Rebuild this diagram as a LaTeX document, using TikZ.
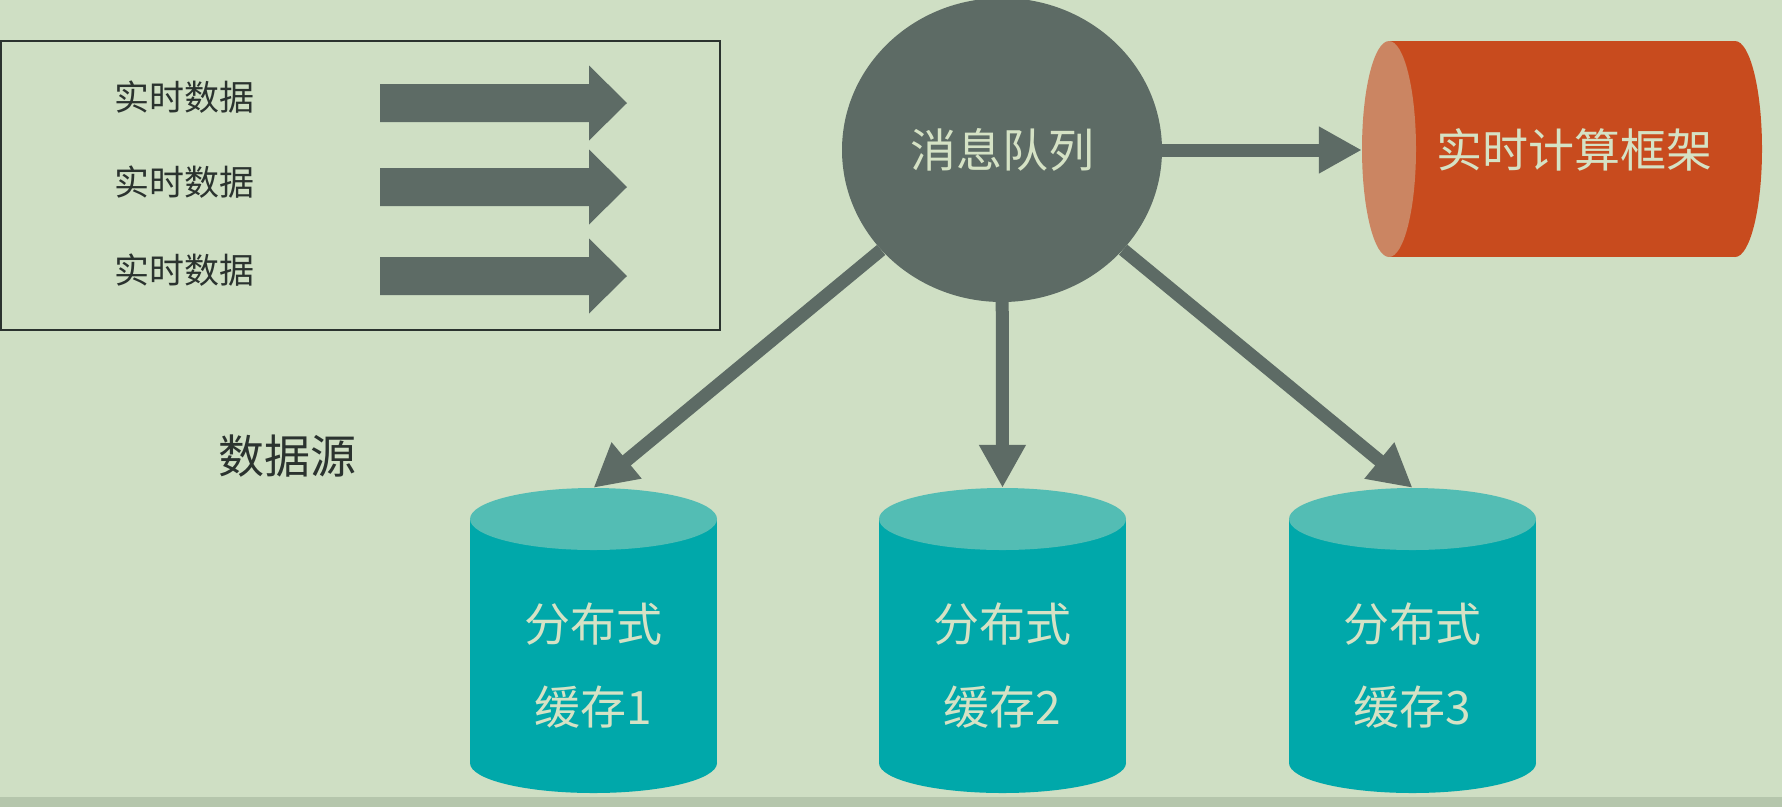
\documentclass[tikz,border=0pt]{standalone}
\usepackage{fontspec}
\setmainfont{Noto Sans CJK SC}
\usetikzlibrary{arrows.meta, shapes.geometric}
\definecolor{bggreen}{HTML}{CFDFC4}
\definecolor{bandgreen}{HTML}{B5C6AC}
\definecolor{slate}{HTML}{5D6B65}
\definecolor{rust}{HTML}{C84B1E}
\definecolor{rustcap}{HTML}{CB8562}
\definecolor{teal}{HTML}{00A8AA}
\definecolor{tealtop}{HTML}{53BDB4}
\definecolor{cream}{HTML}{D5E2C5}
\definecolor{ink}{HTML}{2B332F}

\begin{document}
\begin{tikzpicture}[x=1pt, y=-1pt,
  >={Triangle[length=43pt, width=44pt]},
  flow/.style={->, slate, line width=13pt},
  srctext/.style={font=\fontsize{35}{40}\selectfont, text=ink, inner sep=0pt},
  captext/.style={font=\fontsize{46}{83}\selectfont, text=cream, align=center, inner sep=0pt}]

% Background
\useasboundingbox (0,0) rectangle (1782,807);
\fill[bggreen] (0,0) rectangle (1782,807);
\fill[bandgreen] (0,797) rectangle (1782,807);

% Data source box
\draw[ink, line width=1.5pt] (1,41) rectangle (720,330);
\node[srctext] (src1) at (184,97) {实时数据};
\node[srctext] (src2) at (184,182) {实时数据};
\node[srctext] (src3) at (184,270) {实时数据};
\node[srctext, font=\fontsize{46}{50}\selectfont] (srcname) at (287,456) {数据源};

% Block arrows
\foreach \y in {103,187,276} {
  \fill[slate] (380,\y-19) -- (589,\y-19) -- (589,\y-37.5) -- (627,\y)
    -- (589,\y+37.5) -- (589,\y+19) -- (380,\y+19) -- cycle;
}

% Message queue
\node[ellipse, fill=slate, minimum width=320pt, minimum height=304pt, inner sep=0pt,
      font=\fontsize{46}{50}\selectfont, text=cream] (mq) at (1002,150) {消息队列};

% Real-time computing framework (horizontal cylinder)
\fill[rust] (1389,41) rectangle (1735,257);
\fill[rust] (1735,149) ellipse [x radius=27, y radius=108];
\fill[rustcap] (1389,149) ellipse [x radius=27, y radius=108];
\node[captext, minimum width=424pt, minimum height=216pt] (rt) at (1574,150) {实时计算框架};

% Distributed caches
\foreach \cx/\name/\n in {593.5/c1/1, 1002.5/c2/2, 1412.5/c3/3} {
  \fill[teal] (\cx-123.5,519) rectangle (\cx+123.5,763);
  \fill[teal] (\cx,763) ellipse [x radius=123.5, y radius=30];
  \fill[tealtop] (\cx,519) ellipse [x radius=123.5, y radius=31];
  \node[captext, minimum width=247pt, minimum height=356pt] (\name) at (\cx,666) {分布式\\缓存\n};
}

% Connectors
\draw[flow] (mq) -- (rt.west);
\draw[flow] (mq) -- (c1.north);
\draw[flow] (mq) -- (c2.north);
\draw[flow] (mq) -- (c3.north);

\end{tikzpicture}
\end{document}
